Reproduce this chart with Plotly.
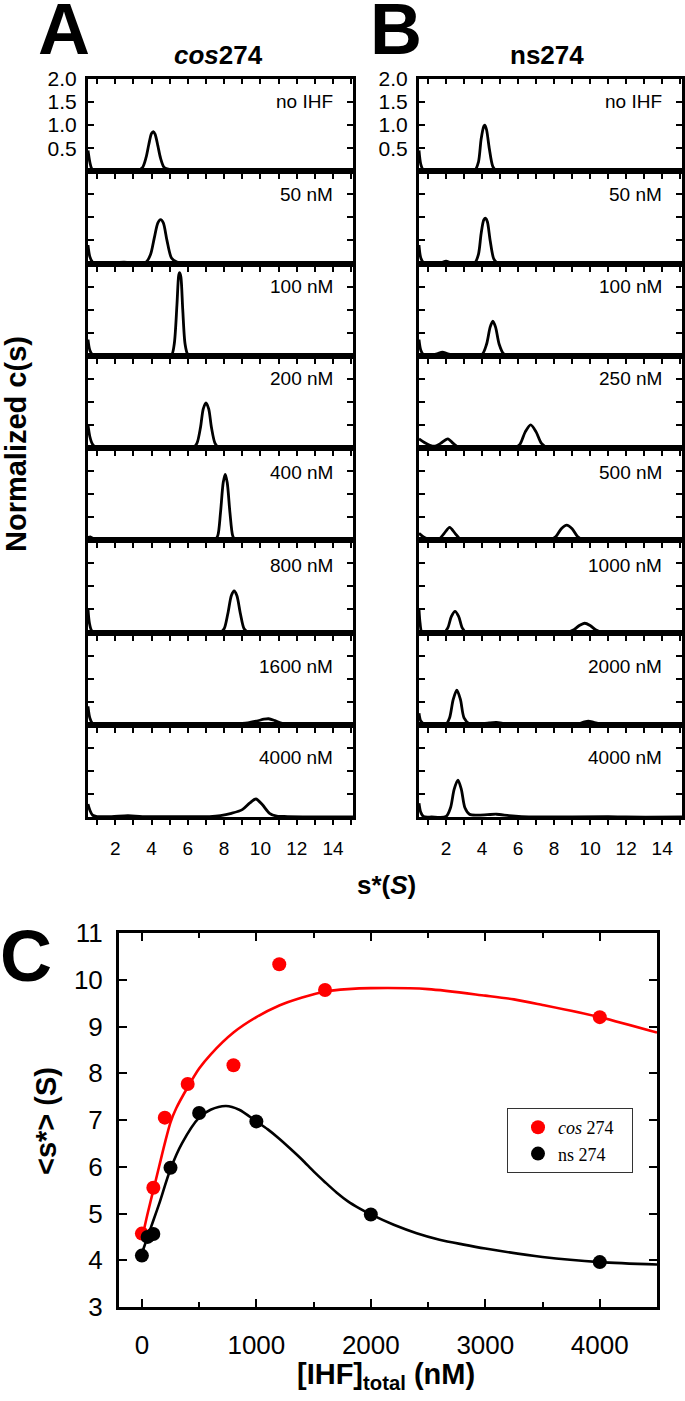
import plotly.graph_objects as go

W, H = 685, 1401

# ---------------- Panel A / B : labels ----------------
cos_labels = ["no IHF", "50 nM", "100 nM", "200 nM", "400 nM", "800 nM", "1600 nM", "4000 nM"]
ns_labels = ["no IHF", "50 nM", "100 nM", "250 nM", "500 nM", "1000 nM", "2000 nM", "4000 nM"]

# ---------------- Panel A : cos274 c(s) curves (s*, normalized c(s)) ----------------
cos_0_s = [0.5, 0.6, 0.7, 0.85, 1.5, 2.5, 3.2, 3.5, 3.7, 3.85, 4.0, 4.1, 4.2, 4.35, 4.5, 4.7, 5.0, 5.5, 6.2, 7.0, 9.0, 12.0, 15.1]
cos_0_c = [0.45, 0.2, 0.06, 0.01, 0.0, 0.0, 0.01, 0.08, 0.3, 0.58, 0.82, 0.86, 0.8, 0.55, 0.28, 0.08, 0.04, 0.03, 0.02, 0.0, 0.0, 0.0, 0.0]

cos_50_s = [0.5, 0.6, 0.75, 1.0, 2.5, 3.2, 3.7, 3.95, 4.15, 4.35, 4.5, 4.65, 4.85, 5.1, 5.4, 6.0, 7.0, 8.0, 15.1]
cos_50_c = [0.4, 0.15, 0.03, 0.0, 0.03, 0.0, 0.03, 0.2, 0.55, 0.88, 0.95, 0.88, 0.5, 0.12, 0.03, 0.01, 0.02, 0.0, 0.0]

cos_100_s = [0.5, 0.6, 0.75, 1.0, 3.0, 4.5, 5.1, 5.25, 5.4, 5.5, 5.55, 5.62, 5.72, 5.85, 6.0, 6.3, 15.1]
cos_100_c = [0.35, 0.12, 0.02, 0.0, 0.0, 0.01, 0.02, 0.25, 1.1, 1.75, 1.8, 1.7, 1.0, 0.25, 0.03, 0.0, 0.0]

cos_200_s = [0.5, 0.6, 0.75, 0.95, 1.2, 2.5, 3.2, 4.9, 5.5, 6.3, 6.5, 6.7, 6.85, 7.0, 7.15, 7.3, 7.5, 7.7, 8.0, 15.1]
cos_200_c = [0.5, 0.25, 0.08, 0.01, 0.0, 0.01, 0.0, 0.02, 0.0, 0.01, 0.1, 0.45, 0.85, 0.98, 0.85, 0.45, 0.1, 0.01, 0.0, 0.0]

cos_400_s = [0.5, 0.65, 0.85, 1.2, 2.5, 3.5, 6.1, 6.5, 7.5, 7.65, 7.8, 7.95, 8.06, 8.17, 8.32, 8.47, 8.6, 9.0, 15.1]
cos_400_c = [0.06, 0.07, 0.02, 0.0, 0.01, 0.0, 0.02, 0.0, 0.01, 0.1, 0.6, 1.25, 1.43, 1.25, 0.6, 0.1, 0.01, 0.0, 0.0]

cos_800_s = [0.5, 0.58, 0.7, 0.9, 2.5, 3.5, 7.3, 7.8, 8.0, 8.2, 8.4, 8.55, 8.7, 8.9, 9.1, 9.3, 9.6, 15.1]
cos_800_c = [0.5, 0.2, 0.04, 0.0, 0.01, 0.0, 0.02, 0.01, 0.08, 0.4, 0.8, 0.9, 0.8, 0.4, 0.08, 0.01, 0.0, 0.0]

cos_1600_s = [0.5, 0.6, 0.75, 1.0, 1.5, 2.2, 3.0, 4.0, 5.5, 7.0, 8.5, 9.3, 9.8, 10.2, 10.45, 10.8, 11.2, 11.8, 13.0, 15.1]
cos_1600_c = [0.4, 0.15, 0.03, 0.01, 0.01, 0.03, 0.01, 0.01, 0.01, 0.01, 0.02, 0.04, 0.08, 0.12, 0.13, 0.09, 0.03, 0.01, 0.0, 0.0]

cos_4000_s = [0.5, 0.6, 0.75, 1.0, 1.8, 2.7, 3.5, 6.0, 7.2, 7.8, 8.4, 9.0, 9.4, 9.75, 10.1, 10.5, 10.9, 11.5, 13.0, 15.1]
cos_4000_c = [0.28, 0.15, 0.04, 0.01, 0.01, 0.03, 0.01, 0.01, 0.01, 0.03, 0.08, 0.16, 0.3, 0.39, 0.27, 0.08, 0.02, 0.01, 0.0, 0.0]

# ---------------- Panel B : ns274 c(s) curves ----------------
ns_0_s = [0.5, 0.6, 0.75, 1.0, 2.0, 3.0, 3.6, 3.8, 3.95, 4.1, 4.15, 4.25, 4.4, 4.6, 4.8, 5.2, 15.1]
ns_0_c = [0.45, 0.15, 0.02, 0.0, 0.03, 0.01, 0.02, 0.2, 0.7, 0.98, 1.0, 0.9, 0.5, 0.1, 0.01, 0.0, 0.0]

ns_50_s = [0.5, 0.6, 0.75, 1.0, 1.7, 2.0, 2.3, 3.0, 3.6, 3.8, 3.95, 4.1, 4.2, 4.3, 4.45, 4.65, 4.85, 5.3, 15.1]
ns_50_c = [0.4, 0.12, 0.02, 0.0, 0.01, 0.05, 0.01, 0.01, 0.02, 0.2, 0.65, 0.95, 0.98, 0.9, 0.5, 0.1, 0.01, 0.0, 0.0]

ns_100_s = [0.5, 0.6, 0.75, 1.0, 1.5, 1.8, 2.1, 2.6, 3.5, 4.0, 4.25, 4.45, 4.6, 4.75, 4.95, 5.2, 5.5, 6.0, 15.1]
ns_100_c = [0.35, 0.12, 0.02, 0.0, 0.04, 0.08, 0.04, 0.0, 0.01, 0.03, 0.25, 0.62, 0.75, 0.62, 0.25, 0.04, 0.01, 0.0, 0.0]

ns_250_s = [0.5, 0.8, 1.1, 1.4, 1.7, 2.1, 2.4, 2.7, 3.2, 4.0, 4.6, 5.8, 6.1, 6.4, 6.7, 7.0, 7.3, 7.6, 8.5, 10.0, 15.1]
ns_250_c = [0.2, 0.12, 0.06, 0.04, 0.1, 0.2, 0.1, 0.01, 0.0, 0.02, 0.0, 0.01, 0.08, 0.35, 0.5, 0.35, 0.1, 0.02, 0.01, 0.0, 0.0]

ns_500_s = [0.5, 0.8, 1.2, 1.6, 1.9, 2.2, 2.5, 2.8, 3.2, 4.0, 5.0, 7.8, 8.1, 8.4, 8.7, 9.0, 9.3, 9.6, 10.0, 11.0, 12.0, 15.1]
ns_500_c = [0.15, 0.06, 0.01, 0.02, 0.15, 0.28, 0.15, 0.02, 0.0, 0.01, 0.0, 0.01, 0.08, 0.25, 0.33, 0.25, 0.08, 0.01, 0.0, 0.01, 0.0, 0.0]

ns_1000_s = [0.5, 0.56, 0.65, 0.9, 1.9, 2.1, 2.3, 2.5, 2.7, 2.9, 3.1, 3.5, 4.4, 5.2, 8.8, 9.1, 9.4, 9.7, 10.0, 10.3, 10.6, 11.0, 15.1]
ns_1000_c = [0.5, 0.2, 0.02, 0.0, 0.0, 0.1, 0.35, 0.46, 0.35, 0.1, 0.01, 0.0, 0.02, 0.0, 0.01, 0.06, 0.15, 0.2, 0.15, 0.06, 0.01, 0.0, 0.0]

ns_2000_s = [0.5, 0.6, 0.8, 1.5, 2.0, 2.2, 2.4, 2.6, 2.8, 3.0, 3.3, 3.8, 4.4, 4.8, 5.3, 6.0, 9.2, 9.6, 9.9, 10.2, 10.6, 11.0, 15.1]
ns_2000_c = [0.25, 0.08, 0.01, 0.0, 0.01, 0.15, 0.55, 0.75, 0.55, 0.15, 0.02, 0.01, 0.04, 0.05, 0.02, 0.0, 0.01, 0.05, 0.08, 0.05, 0.01, 0.0, 0.0]

ns_4000_s = [0.5, 0.6, 0.75, 1.2, 2.0, 2.25, 2.45, 2.66, 2.85, 3.05, 3.3, 3.7, 4.3, 4.8, 5.5, 6.2, 7.0, 11.0, 12.0, 15.1]
ns_4000_c = [0.3, 0.1, 0.01, 0.0, 0.01, 0.2, 0.6, 0.8, 0.6, 0.2, 0.06, 0.04, 0.05, 0.06, 0.03, 0.01, 0.0, 0.01, 0.0, 0.0]

cos_s = [cos_0_s, cos_50_s, cos_100_s, cos_200_s, cos_400_s, cos_800_s, cos_1600_s, cos_4000_s]
cos_c = [cos_0_c, cos_50_c, cos_100_c, cos_200_c, cos_400_c, cos_800_c, cos_1600_c, cos_4000_c]
ns_s = [ns_0_s, ns_50_s, ns_100_s, ns_250_s, ns_500_s, ns_1000_s, ns_2000_s, ns_4000_s]
ns_c = [ns_0_c, ns_50_c, ns_100_c, ns_250_c, ns_500_c, ns_1000_c, ns_2000_c, ns_4000_c]

# label vertical offsets (px below each subpanel top)
label_dy = [23, 23, 23, 23, 25, 25, 34, 33]

# ---------------- Panel C : <s*> vs [IHF] ----------------
ihf_cos = [0, 100, 200, 400, 800, 1200, 1600, 4000]
sstar_cos = [4.57, 5.55, 7.05, 7.77, 8.17, 10.33, 9.78, 9.2]
ihf_ns = [0, 50, 100, 250, 500, 1000, 2000, 4000]
sstar_ns = [4.1, 4.5, 4.56, 5.98, 7.15, 6.97, 4.98, 3.96]

fit_cos_x = [0, 50, 100, 150, 200, 250, 300, 400, 500, 600, 800, 1000, 1200, 1400, 1600, 1800, 2000, 2500, 3000, 3250, 3500, 4000, 4500]
fit_cos_y = [4.45, 5.0, 5.5, 6.0, 6.5, 6.95, 7.25, 7.7, 8.1, 8.4, 8.87, 9.2, 9.45, 9.62, 9.75, 9.8, 9.82, 9.8, 9.66, 9.58, 9.46, 9.2, 8.87]
fit_ns_x = [0, 50, 100, 150, 250, 350, 500, 600, 735, 850, 1000, 1100, 1200, 1300, 1400, 1500, 1600, 1700, 1800, 1900, 2000, 2200, 2400, 2600, 2800, 3000, 3500, 4000, 4500]
fit_ns_y = [4.15, 4.5, 4.85, 5.2, 5.95, 6.5, 7.05, 7.22, 7.3, 7.22, 6.97, 6.8, 6.6, 6.38, 6.15, 5.9, 5.67, 5.45, 5.26, 5.11, 4.98, 4.76, 4.58, 4.44, 4.34, 4.25, 4.07, 3.96, 3.91]

# ---------------- geometry (pixels) ----------------
def fx(px):
    return px / W

def fy(py):
    return 1 - py / H

TOP, BOT = 79, 817
ROWH = (BOT - TOP) / 8
A_L, A_R = 88, 353
B_L, B_R = 419, 682
C_L, C_R, C_T, C_B = 119, 657, 933, 1307

FONT = "Liberation Sans, Arial, sans-serif"
LW = 3
CLW = 2.8

fig = go.Figure()
layout = dict(
    template="none",
    width=W, height=H,
    margin=dict(l=0, r=0, t=0, b=0, pad=0, autoexpand=False),
    paper_bgcolor="white", plot_bgcolor="white",
    font=dict(family=FONT, color="black"),
    showlegend=True,
)
annotations = []

def xaxis_small(left, right, show_labels):
    return dict(
        domain=[fx(left), fx(right)],
        range=[0.5, 15.1], automargin=False,
        showline=True, linewidth=LW, linecolor="black", mirror=True,
        ticks="outside", ticklen=5, tickwidth=2, tickcolor="black",
        tick0=0, dtick=2,
        minor=dict(dtick=1, ticks="outside", ticklen=5, tickwidth=2, tickcolor="black"),
        showticklabels=show_labels,
        tickfont=dict(size=19, family=FONT, color="black"), ticklabelstandoff=7,
        showgrid=False, zeroline=False,
    )

def yaxis_small(row, show_labels, xanchor):
    top = TOP + row * ROWH
    bot = top + ROWH
    d = dict(
        domain=[fy(bot), fy(top)],
        range=[0, 2.0], automargin=False,
        showline=True, linewidth=LW, linecolor="black", mirror="ticks",
        ticks="inside", ticklen=6, tickwidth=2, tickcolor="black",
        tickvals=[0.5, 1.0, 1.5, 2.0],
        showticklabels=show_labels,
        showgrid=False, zeroline=False,
        anchor=xanchor,
    )
    if show_labels:
        d.update(ticktext=["0.5", "1.0", "1.5", "2.0"],
                 tickfont=dict(size=21, family=FONT, color="black"), ticklabelstandoff=4)
    return d

panels = [(cos_s, cos_c, cos_labels, A_L, A_R, 1), (ns_s, ns_c, ns_labels, B_L, B_R, 9)]
for s_list, c_list, labels, L, R, base in panels:
    for i in range(8):
        k = base + i
        xk = "x" if k == 1 else f"x{k}"
        yk = "y" if k == 1 else f"y{k}"
        xa = xaxis_small(L, R, i == 7)
        xa["anchor"] = yk
        layout["xaxis" if k == 1 else f"xaxis{k}"] = xa
        layout["yaxis" if k == 1 else f"yaxis{k}"] = yaxis_small(i, i == 0, xk)
        fig.add_trace(go.Scatter(
            x=s_list[i], y=c_list[i], mode="lines",
            line=dict(color="black", width=CLW, shape="spline", smoothing=0.8),
            xaxis=xk, yaxis=yk, showlegend=False, hoverinfo="skip",
        ))
        annotations.append(dict(
            text=labels[i], xref="paper", yref="paper",
            x=fx(R - 18), y=fy(TOP + i * ROWH + label_dy[i]),
            xanchor="right", yanchor="middle", showarrow=False,
            font=dict(size=19, family=FONT, color="black"),
        ))

# top ticks (pointing inward) for the top subpanels
for k, ov, yk in [(18, "x", "y"), (19, "x9", "y9")]:
    layout[f"xaxis{k}"] = dict(
        overlaying=ov, side="top", anchor=yk, automargin=False,
        range=[0.5, 15.1], tick0=0, dtick=1,
        ticks="inside", ticklen=5, tickwidth=2, tickcolor="black",
        showticklabels=False, showline=False, showgrid=False, zeroline=False,
    )
    fig.add_trace(go.Scatter(x=[None], y=[None], xaxis=f"x{k}", yaxis=yk,
                             showlegend=False, hoverinfo="skip", mode="lines"))

# ---------------- Panel C ----------------
layout["xaxis17"] = dict(
    domain=[fx(C_L), fx(C_R)], anchor="y17", automargin=False,
    range=[-200, 4500], tick0=0, dtick=1000,
    showline=True, linewidth=LW, linecolor="black", mirror="ticks",
    ticks="inside", ticklen=8, tickwidth=2, tickcolor="black",
    minor=dict(dtick=500, ticks="inside", ticklen=5, tickwidth=2, tickcolor="black"),
    tickfont=dict(size=26, family=FONT, color="black"), ticklabelstandoff=13,
    showgrid=False, zeroline=False,
)
layout["yaxis17"] = dict(
    domain=[fy(C_B), fy(C_T)], anchor="x17", automargin=False,
    range=[3, 11], dtick=1,
    showline=True, linewidth=LW, linecolor="black", mirror="ticks",
    ticks="inside", ticklen=8, tickwidth=2, tickcolor="black",
    tickfont=dict(size=26, family=FONT, color="black"), ticklabelstandoff=8,
    showgrid=False, zeroline=False,
)

fig.add_trace(go.Scatter(
    x=fit_cos_x, y=fit_cos_y, mode="lines",
    line=dict(color="#ff0000", width=2.6, shape="spline", smoothing=0.8),
    xaxis="x17", yaxis="y17", showlegend=False, hoverinfo="skip",
))
fig.add_trace(go.Scatter(
    x=ihf_cos, y=sstar_cos, mode="markers", name="<i>cos</i> 274\u00a0\u00a0\u00a0",
    marker=dict(color="#ff0000", size=14),
    xaxis="x17", yaxis="y17",
))
fig.add_trace(go.Scatter(
    x=fit_ns_x, y=fit_ns_y, mode="lines",
    line=dict(color="black", width=2.6, shape="spline", smoothing=0.8),
    xaxis="x17", yaxis="y17", showlegend=False, hoverinfo="skip",
))
fig.add_trace(go.Scatter(
    x=ihf_ns, y=sstar_ns, mode="markers", name="ns 274",
    marker=dict(color="black", size=14),
    xaxis="x17", yaxis="y17",
))

layout["legend"] = dict(
    x=fx(507), y=fy(1108), xanchor="left", yanchor="top",
    bgcolor="white", bordercolor="#333", borderwidth=1,
    font=dict(family="Liberation Serif, Times New Roman, serif", size=18, color="black"),
    itemsizing="trace", indentation=10,
)

# ---------------- text ----------------
big = [
    dict(text="<b>A</b>", x=fx(64), y=fy(29), font=dict(size=72)),
    dict(text="<b>B</b>", x=fx(396), y=fy(29), font=dict(size=72)),
    dict(text="<b>C</b>", x=fx(26), y=fy(956), font=dict(size=72)),
    dict(text="<b><i>cos</i>274</b>", x=fx(218), y=fy(55), font=dict(size=26)),
    dict(text="<b>ns274</b>", x=fx(547), y=fy(55), font=dict(size=26)),
    dict(text="<b>Normalized c(s)</b>", x=fx(16), y=fy(444), textangle=-90, font=dict(size=29)),
    dict(text="<b>s*(<i>S</i>)</b>", x=fx(386), y=fy(885), font=dict(size=26)),
    dict(text="<b>&lt;s*&gt; (S)</b>", x=fx(46), y=fy(1121), textangle=-90, font=dict(size=29)),
    dict(text="<b>[IHF]<sub>total</sub> (nM)</b>", x=fx(386), y=fy(1376), font=dict(size=29)),
]
for a in big:
    a.update(xref="paper", yref="paper", xanchor="center", yanchor="middle", showarrow=False)
    a["font"]["family"] = FONT
    a["font"]["color"] = "black"
annotations += big

layout["annotations"] = annotations
fig.update_layout(**layout)
fig.write_html("out.html", config={"displayModeBar": False},
               post_script="document.body.style.margin='0';")
